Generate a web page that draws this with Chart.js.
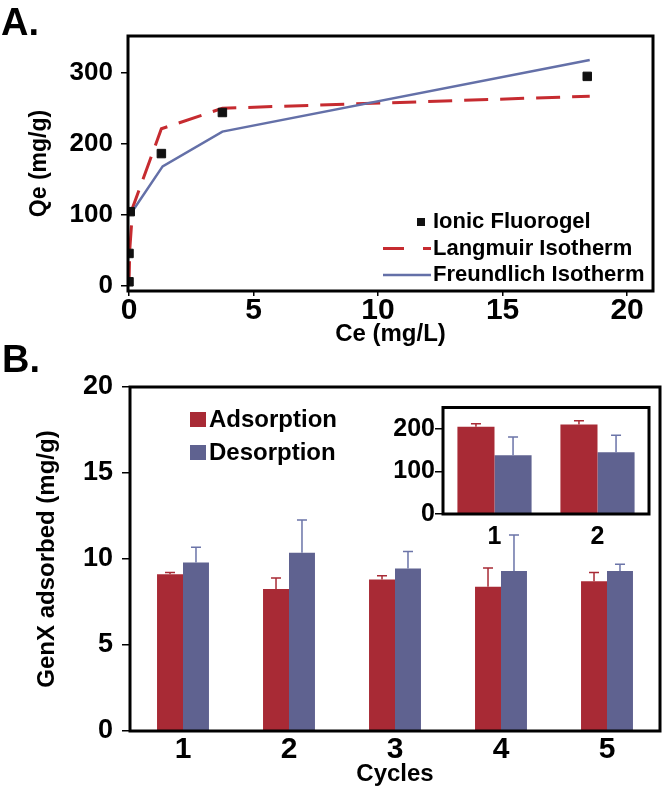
<!DOCTYPE html>
<html>
<head>
<meta charset="utf-8">
<script src="https://cdn.jsdelivr.net/npm/chart.js@4.4.1/dist/chart.umd.min.js"></script>
<style>
  html, body { margin: 0; padding: 0; background: #fff; }
  body { width: 666px; height: 787px; position: relative; overflow: hidden; font-family: "Liberation Sans", Arial, sans-serif; }
  canvas { position: absolute; }
  .panel { position: absolute; font-weight: bold; font-size: 38px; line-height: 1; color: #000; }
</style>
</head>
<body>
<canvas id="isotherm" width="666" height="350" style="left:0;top:0"></canvas>
<canvas id="cycles" width="666" height="437" style="left:0;top:350px"></canvas>
<canvas id="inset" width="280" height="150" style="left:380px;top:395px"></canvas>
<div class="panel" style="left:1px;top:3px">A.</div>
<div class="panel" style="left:2px;top:340px">B.</div>
<script>
// Panel A - isotherm (Ce mg/L vs Qe mg/g)
const ceFluorogel = [0, 0, 0.05, 1.3, 3.75, 18.4];
const qeFluorogel = [5, 45, 104, 186, 244, 295];
const ceLangmuir = [0, 0.03, 0.15, 1.3, 3.75, 18.5];
const qeLangmuir = [0, 50, 110, 221, 250, 267];
const ceFreundlich = [0.05, 1.35, 3.75, 18.5];
const qeFreundlich = [100, 168, 217, 318];
const ceTicks = [0, 5, 10, 15, 20];
const qeTicks = [0, 100, 200, 300];

// Panel B - GenX adsorbed per cycle
const cycleLabels = ['1', '2', '3', '4', '5'];
const adsorption = [9.12, 8.25, 8.81, 8.38, 8.71];
const adsorptionErr = [0.1, 0.64, 0.22, 1.1, 0.5];
const desorption = [9.8, 10.37, 9.45, 9.3, 9.3];
const desorptionErr = [0.88, 1.9, 0.98, 2.1, 0.4];
const genxTicks = [0, 5, 10, 15, 20];

// inset of panel B
const insetLabels = ['1', '2'];
const insetAdsorption = [205, 210];
const insetAdsorptionErr = [7, 9];
const insetDesorption = [138, 145];
const insetDesorptionErr = [43, 40];
const insetTicks = [0, 100, 200];

const FONT = '"Liberation Sans", Arial, sans-serif';
const RED = '#a82a35';
const BLUE = '#5f6290';
const font = (size) => ({ family: FONT, size: size, weight: 'bold', lineHeight: 1 });
const pts = (xs, ys) => xs.map((x, i) => ({ x: x, y: ys[i] }));
const fixedTicks = (list) => (scale) => { scale.ticks = list.map(v => ({ value: v })); };

// black box round the plot area
const frame = {
  id: 'frame',
  beforeDatasetsDraw(chart, args, opts) {
    if (!opts.fill) return;
    const a = chart.chartArea;
    chart.ctx.save();
    chart.ctx.fillStyle = '#fff';
    chart.ctx.fillRect(a.left, a.top, a.right - a.left, a.bottom - a.top);
    chart.ctx.restore();
  },
  afterDraw(chart) {
    const { ctx, chartArea: a } = chart;
    ctx.save();
    ctx.lineWidth = 3;
    ctx.strokeStyle = '#000';
    ctx.strokeRect(a.left, a.top, a.right - a.left, a.bottom - a.top);
    ctx.restore();
  }
};

// one-sided error bars on top of each bar
const errorBars = {
  id: 'errorBars',
  afterDatasetsDraw(chart, args, opts) {
    const { ctx } = chart;
    const y = chart.scales.y;
    chart.data.datasets.forEach((ds, i) => {
      if (!ds.errors) return;
      ctx.save();
      ctx.strokeStyle = ds.errorColor;
      ctx.lineWidth = opts.width;
      chart.getDatasetMeta(i).data.forEach((bar, j) => {
        const top = y.getPixelForValue(ds.data[j] + ds.errors[j]);
        ctx.beginPath();
        ctx.moveTo(bar.x, bar.y);
        ctx.lineTo(bar.x, top);
        ctx.moveTo(bar.x - opts.cap, top);
        ctx.lineTo(bar.x + opts.cap, top);
        ctx.stroke();
      });
      ctx.restore();
    });
  }
};

// legend drawn inside the plot
const keyLegend = {
  id: 'keyLegend',
  afterDraw(chart, args, opts) {
    const { ctx } = chart;
    ctx.save();
    ctx.font = 'bold ' + opts.size + 'px ' + FONT;
    ctx.textBaseline = 'middle';
    chart.data.datasets.forEach((ds, k) => {
      const y = opts.y + k * opts.gap;
      const kind = opts.kinds[k];
      if (kind === 'box') {
        ctx.fillStyle = ds.backgroundColor;
        ctx.fillRect(opts.x - opts.box - 3, y - opts.box / 2, opts.box, opts.box - 1);
      } else if (kind === 'marker') {
        ctx.fillStyle = ds.backgroundColor;
        ctx.fillRect(opts.x - 16, y - 4, 8, 8);
      } else {
        ctx.strokeStyle = ds.borderColor;
        ctx.lineWidth = ds.borderWidth;
        ctx.setLineDash(kind === 'dash' ? [21, 19] : []);
        ctx.beginPath();
        ctx.moveTo(opts.x - 50, y);
        ctx.lineTo(opts.x - 2, y);
        ctx.stroke();
        ctx.setLineDash([]);
      }
      ctx.fillStyle = '#000';
      ctx.fillText(ds.label, opts.x, y);
    });
    ctx.restore();
  }
};

const common = {
  responsive: false,
  animation: false,
  events: [],
  devicePixelRatio: 1
};

new Chart(document.getElementById('isotherm'), {
  type: 'scatter',
  data: {
    datasets: [
      { label: 'Ionic Fluorogel', data: pts(ceFluorogel, qeFluorogel), pointStyle: 'rect', pointRadius: 6,
        backgroundColor: '#111', borderColor: '#111', borderWidth: 1, showLine: false, order: 0 },
      { label: 'Langmuir Isotherm', data: pts(ceLangmuir, qeLangmuir), showLine: true, borderColor: '#c62b30',
        borderWidth: 3, borderDash: [24, 12], pointRadius: 0, order: 2 },
      { label: 'Freundlich Isotherm', data: pts(ceFreundlich, qeFreundlich), showLine: true, borderColor: '#6470a8',
        borderWidth: 2.5, pointRadius: 0, order: 1 }
    ]
  },
  options: Object.assign({}, common, {
    layout: { padding: { top: 36, right: 13, left: 0, bottom: 0 } },
    plugins: {
      legend: { display: false },
      tooltip: { enabled: false },
      keyLegend: { x: 433, y: 222, gap: 26.5, size: 22, kinds: ['marker', 'dash', 'line'] }
    },
    scales: {
      x: {
        type: 'linear', min: -0.04, max: 21.04,
        afterBuildTicks: fixedTicks(ceTicks),
        afterFit: (s) => { s.height = 59; },
        grid: { drawOnChartArea: false, tickLength: 5, color: '#000', lineWidth: 1.5 },
        border: { display: false },
        ticks: { padding: 0, color: '#000', font: font(30), maxRotation: 0 },
        title: { display: true, text: 'Ce (mg/L)', color: '#000', font: font(24), padding: { top: 0, bottom: 4 } }
      },
      y: {
        min: -8, max: 352,
        afterBuildTicks: fixedTicks(qeTicks),
        afterFit: (s) => { s.width = 128; },
        grid: { drawOnChartArea: false, tickLength: 7, color: '#000', lineWidth: 1.5 },
        border: { display: false },
        ticks: { padding: 8, color: '#000', font: font(26) },
        title: { display: true, text: 'Qe (mg/g)', color: '#000', font: font(23), padding: { top: 28, bottom: 0 } }
      }
    }
  }),
  plugins: [frame, keyLegend]
});

new Chart(document.getElementById('cycles'), {
  type: 'bar',
  data: {
    labels: cycleLabels,
    datasets: [
      { label: 'Adsorption', data: adsorption, errors: adsorptionErr, backgroundColor: RED, errorColor: RED },
      { label: 'Desorption', data: desorption, errors: desorptionErr, backgroundColor: BLUE, errorColor: '#6b74a8' }
    ]
  },
  options: Object.assign({}, common, {
    layout: { padding: { top: 37, right: 6, left: 0, bottom: 0 } },
    datasets: { bar: { barPercentage: 1, categoryPercentage: 0.49 } },
    plugins: {
      legend: { display: false },
      tooltip: { enabled: false },
      errorBars: { width: 1.5, cap: 5 },
      keyLegend: { x: 209, y: 70, gap: 33, size: 24, box: 16, kinds: ['box', 'box'] }
    },
    scales: {
      x: {
        afterFit: (s) => { s.height = 56; },
        grid: { display: false },
        border: { display: false },
        ticks: { padding: -4, color: '#000', font: font(30) },
        title: { display: true, text: 'Cycles', color: '#000', font: font(24), padding: { top: 0, bottom: 1 } }
      },
      y: {
        min: 0, max: 20,
        afterBuildTicks: fixedTicks(genxTicks),
        afterFit: (s) => { s.width = 130; },
        grid: { drawOnChartArea: false, tickLength: 8, color: '#000', lineWidth: 1.5 },
        border: { display: false },
        ticks: { padding: 9, color: '#000', font: font(27) },
        title: { display: true, text: 'GenX adsorbed (mg/g)', color: '#000', font: font(24), padding: { top: 35, bottom: 0 } }
      }
    }
  }),
  plugins: [frame, errorBars, keyLegend]
});

new Chart(document.getElementById('inset'), {
  type: 'bar',
  data: {
    labels: insetLabels,
    datasets: [
      { label: 'Adsorption', data: insetAdsorption, errors: insetAdsorptionErr, backgroundColor: RED, errorColor: RED },
      { label: 'Desorption', data: insetDesorption, errors: insetDesorptionErr, backgroundColor: BLUE, errorColor: '#6b74a8' }
    ]
  },
  options: Object.assign({}, common, {
    layout: { padding: { top: 7, right: 11, left: 0, bottom: 0 } },
    datasets: { bar: { barPercentage: 1, categoryPercentage: 0.72 } },
    plugins: {
      legend: { display: false },
      tooltip: { enabled: false },
      errorBars: { width: 1.5, cap: 5 },
      frame: { fill: true }
    },
    scales: {
      x: {
        afterFit: (s) => { s.height = 31; },
        grid: { display: false },
        border: { display: false },
        ticks: { padding: 3, color: '#000', font: font(25) }
      },
      y: {
        min: 0, max: 250,
        afterBuildTicks: fixedTicks(insetTicks),
        afterFit: (s) => { s.width = 63; },
        grid: { drawOnChartArea: false, tickLength: 8, color: '#000', lineWidth: 1.5 },
        border: { display: false },
        ticks: { padding: 0, color: '#000', font: font(25) }
      }
    }
  }),
  plugins: [frame, errorBars]
});
</script>
</body>
</html>
